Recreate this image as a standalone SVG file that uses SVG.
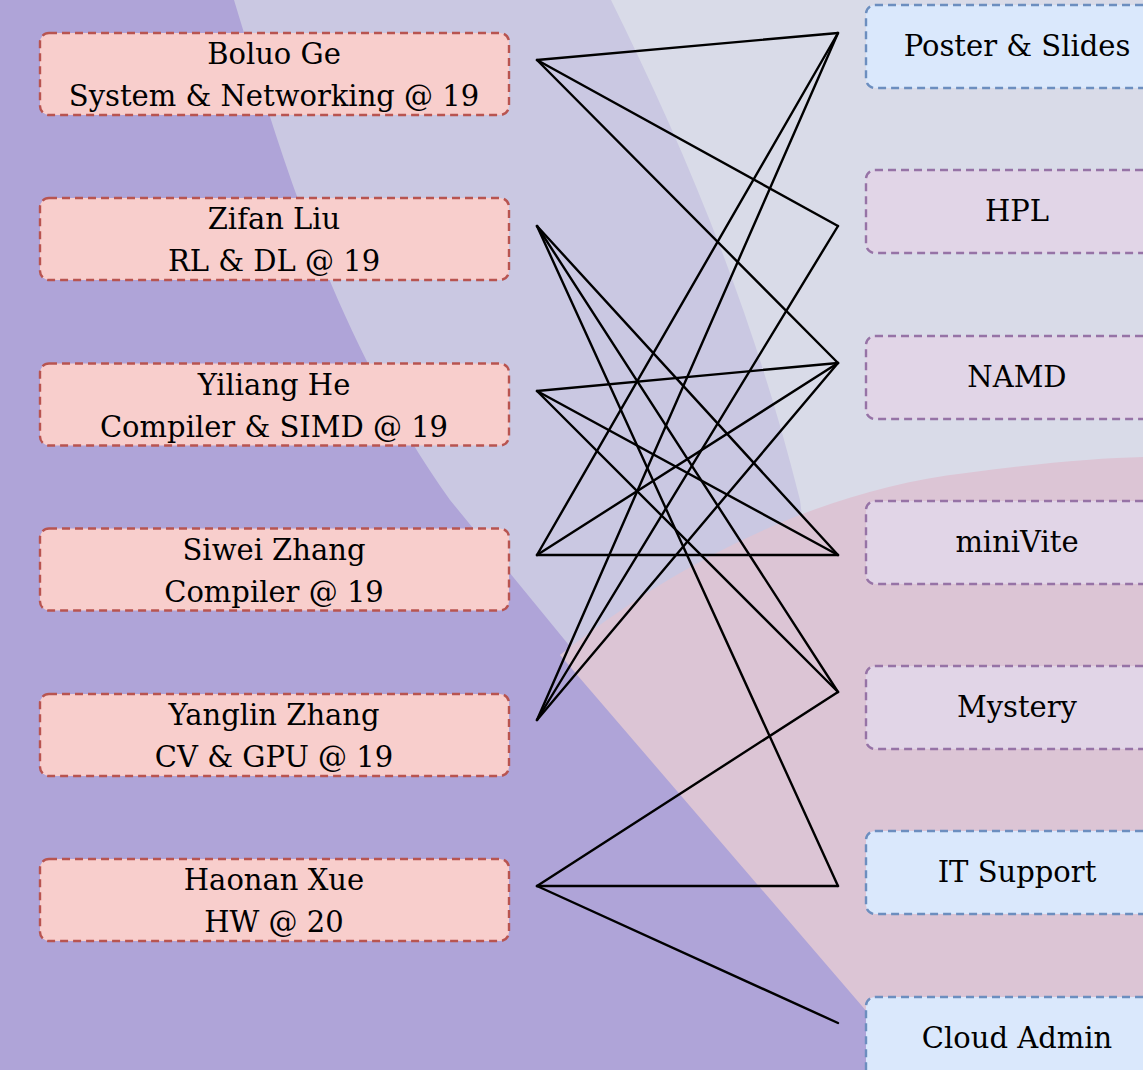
<svg xmlns="http://www.w3.org/2000/svg" width="1143" height="1070" viewBox="0 0 1143 1070">
<defs>
<style>
.bg0{fill:#afa4d8}
.bgA{fill:#cac8e2}
.bgB{fill:#d9dbe8}
.bgC{fill:#dcc5d5}
.box{stroke-width:2.4;stroke-dasharray:8 5}
.person{fill:#f8cecc;stroke:#b85450}
.blue{fill:#dae8fc;stroke:#6c8ebf}
.purple{fill:#e1d5e7;stroke:#9673a6}
text{font-family:"DejaVu Serif","Liberation Serif",serif;font-size:29px;fill:#000;text-anchor:middle}
#edges line{stroke:#000;stroke-width:2.4;stroke-linecap:round}
</style>
</defs>
<g id="background">
<rect class="bg0" x="0" y="0" width="1143" height="1070"/>
<path class="bgA" d="M234,0 C280,150 330,330 450,500 L917,1070 L1143,1070 L1143,0 Z"/>
<path class="bgB" d="M611,0 C680,140 750,300 800,500 L815,620 L1143,620 L1143,0 Z"/>
<path class="bgC" d="M560,655 C680,560 820,490 966,473 C1040,463 1100,458 1143,457 L1143,1070 L917,1070 Z"/>
</g>
<g id="edges">
<line x1="537" y1="60" x2="838" y2="33"/>
<line x1="537" y1="60" x2="838" y2="226"/>
<line x1="537" y1="60" x2="838" y2="363"/>
<line x1="537" y1="226" x2="838" y2="555"/>
<line x1="537" y1="226" x2="838" y2="692"/>
<line x1="537" y1="226" x2="838" y2="886"/>
<line x1="537" y1="391" x2="838" y2="363"/>
<line x1="537" y1="391" x2="838" y2="555"/>
<line x1="537" y1="391" x2="838" y2="692"/>
<line x1="537" y1="555" x2="838" y2="33"/>
<line x1="537" y1="555" x2="838" y2="363"/>
<line x1="537" y1="555" x2="838" y2="555"/>
<line x1="537" y1="720" x2="838" y2="33"/>
<line x1="537" y1="720" x2="838" y2="226"/>
<line x1="537" y1="720" x2="838" y2="363"/>
<line x1="537" y1="886" x2="838" y2="692"/>
<line x1="537" y1="886" x2="838" y2="886"/>
<line x1="537" y1="886" x2="838" y2="1023"/>
</g>
<g id="boluo"><rect class="box person" x="40" y="33" width="469" height="82" rx="9"/><text x="274" y="64">Boluo Ge</text><text x="274" y="106">System &amp; Networking @ 19</text></g>
<g id="zifan"><rect class="box person" x="40" y="198" width="469" height="82" rx="9"/><text x="274" y="229">Zifan Liu</text><text x="274" y="271">RL &amp; DL @ 19</text></g>
<g id="yiliang"><rect class="box person" x="40" y="363.5" width="469" height="82" rx="9"/><text x="274" y="394.5">Yiliang He</text><text x="274" y="436.5">Compiler &amp; SIMD @ 19</text></g>
<g id="siwei"><rect class="box person" x="40" y="528.5" width="469" height="82" rx="9"/><text x="274" y="559.5">Siwei Zhang</text><text x="274" y="601.5">Compiler @ 19</text></g>
<g id="yanglin"><rect class="box person" x="40" y="694" width="469" height="82" rx="9"/><text x="274" y="725">Yanglin Zhang</text><text x="274" y="767">CV &amp; GPU @ 19</text></g>
<g id="haonan"><rect class="box person" x="40" y="859" width="469" height="82" rx="9"/><text x="274" y="890">Haonan Xue</text><text x="274" y="932">HW @ 20</text></g>
<g id="poster"><rect class="box blue" x="866" y="5" width="302" height="83" rx="9"/><text x="1017" y="56">Poster &amp; Slides</text></g>
<g id="hpl"><rect class="box purple" x="866" y="170" width="302" height="83" rx="9"/><text x="1017" y="221">HPL</text></g>
<g id="namd"><rect class="box purple" x="866" y="336" width="302" height="83" rx="9"/><text x="1017" y="387">NAMD</text></g>
<g id="minivite"><rect class="box purple" x="866" y="501" width="302" height="83" rx="9"/><text x="1017" y="552">miniVite</text></g>
<g id="mystery"><rect class="box purple" x="866" y="666" width="302" height="83" rx="9"/><text x="1017" y="717">Mystery</text></g>
<g id="itsupport"><rect class="box blue" x="866" y="831" width="302" height="83" rx="9"/><text x="1017" y="882">IT Support</text></g>
<g id="cloudadmin"><rect class="box blue" x="866" y="997" width="302" height="83" rx="9"/><text x="1017" y="1048">Cloud Admin</text></g>
</svg>
